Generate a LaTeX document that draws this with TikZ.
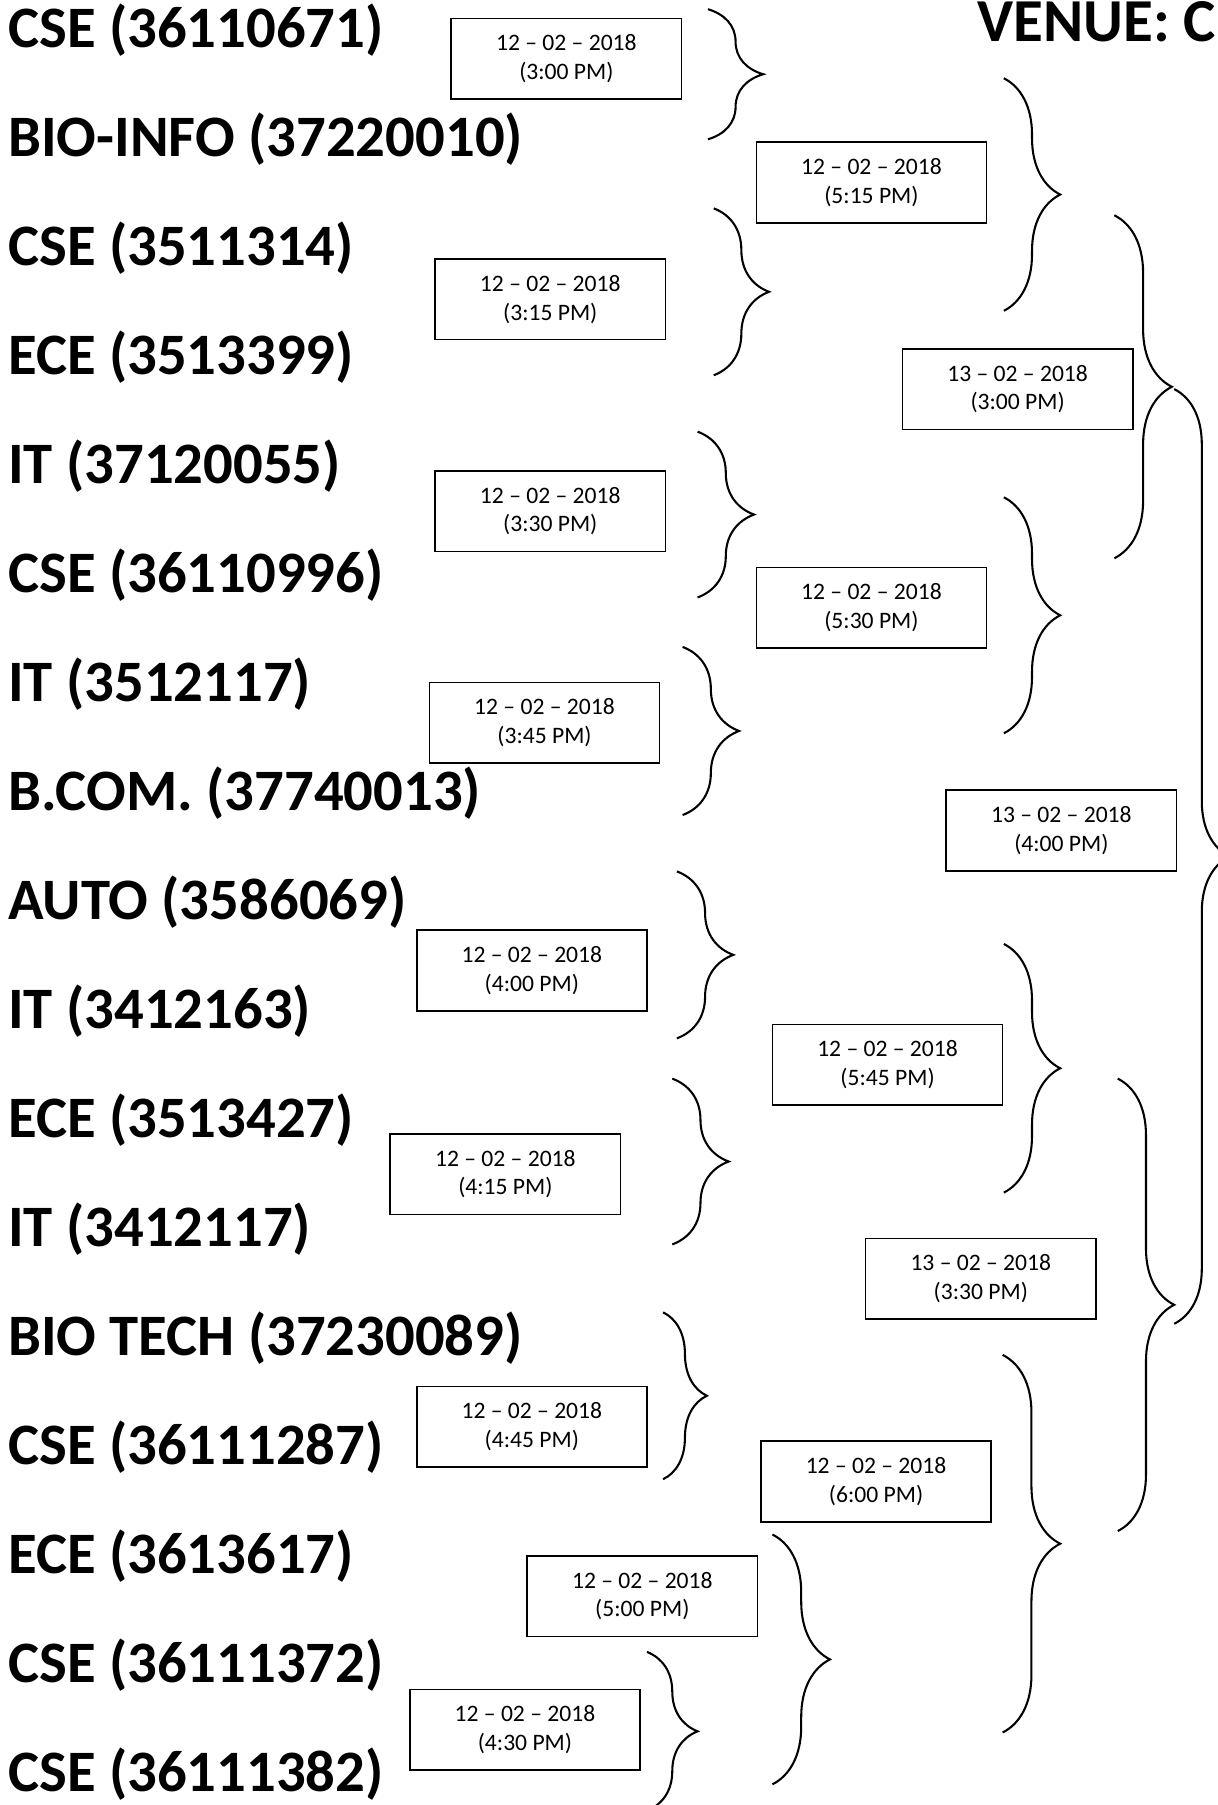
\documentclass[tikz,border=0pt]{standalone}
\usepackage{fontspec}
\setmainfont{Carlito}
\usepackage{tikz}
\usetikzlibrary{decorations.pathreplacing}
\tikzstyle{subj} = [anchor=base west, inner sep=0pt, font=\fontsize{51}{55}\selectfont\bfseries]
\tikzstyle{venue} = [anchor=base west, inner sep=0pt, font=\fontsize{53}{57}\selectfont\bfseries]
\tikzstyle{slot} = [rectangle, draw, line width=1.4pt, minimum width=200pt, minimum height=70pt, inner sep=0pt, align=center, font=\fontsize{20.5}{25}\selectfont]
\tikzstyle{brc} = [draw, line width=1.8pt, decorate, decoration={brace, amplitude=49pt}]

\begin{document}
\begin{tikzpicture}[x=1pt, y=-1pt]
		\useasboundingbox (0,0) rectangle (1058,1568);
		
		\node [venue] (title) at (849,36) {VENUE: C};
		
		\node [subj] (s1) at (7,41) {CSE (36110671)};
		\node [subj] (s2) at (7,135.7) {BIO-INFO (37220010)};
		\node [subj] (s3) at (7,230.4) {CSE (3511314)};
		\node [subj] (s4) at (7,325.1) {ECE (3513399)};
		\node [subj] (s5) at (7,419.8) {IT (37120055)};
		\node [subj] (s6) at (7,514.5) {CSE (36110996)};
		\node [subj] (s7) at (7,609.2) {IT (3512117)};
		\node [subj] (s8) at (7,703.9) {B.COM. (37740013)};
		\node [subj] (s9) at (7,798.6) {AUTO (3586069)};
		\node [subj] (s10) at (7,893.3) {IT (3412163)};
		\node [subj] (s11) at (7,988) {ECE (3513427)};
		\node [subj] (s12) at (7,1082.7) {IT (3412117)};
		\node [subj] (s13) at (7,1177.4) {BIO TECH (37230089)};
		\node [subj] (s14) at (7,1272.1) {CSE (36111287)};
		\node [subj] (s15) at (7,1366.8) {ECE (3613617)};
		\node [subj] (s16) at (7,1461.5) {CSE (36111372)};
		\node [subj] (s17) at (7,1556.2) {CSE (36111382)};
		
		% first round
		\node [slot] (t1) at (492,51) {12 – 02 – 2018\\(3:00 PM)};
		\node [slot] (t3) at (478,260) {12 – 02 – 2018\\(3:15 PM)};
		\node [slot] (t5) at (478,444) {12 – 02 – 2018\\(3:30 PM)};
		\node [slot] (t7) at (473,628) {12 – 02 – 2018\\(3:45 PM)};
		\node [slot] (t9) at (462,843) {12 – 02 – 2018\\(4:00 PM)};
		\node [slot] (t11) at (439,1020) {12 – 02 – 2018\\(4:15 PM)};
		\node [slot] (t13) at (462,1239.5) {12 – 02 – 2018\\(4:45 PM)};
		\node [slot] (t16) at (456,1502.5) {12 – 02 – 2018\\(4:30 PM)};
		\node [slot] (t15) at (558,1386.5) {12 – 02 – 2018\\(5:00 PM)};
		
		% second round
		\node [slot] (t2) at (757,158.5) {12 – 02 – 2018\\(5:15 PM)};
		\node [slot] (t6) at (757,528) {12 – 02 – 2018\\(5:30 PM)};
		\node [slot] (t10) at (771,925) {12 – 02 – 2018\\(5:45 PM)};
		\node [slot] (t14) at (761,1287) {12 – 02 – 2018\\(6:00 PM)};
		
		% third round
		\node [slot] (t4) at (884,338) {13 – 02 – 2018\\(3:00 PM)};
		\node [slot] (t12) at (852,1111) {13 – 02 – 2018\\(3:30 PM)};
		\node [slot] (t8) at (922,721.5) {13 – 02 – 2018\\(4:00 PM)};
		
		% braces
		\coordinate (k1a) at (615,8); \coordinate (k1b) at (615,121);
		\coordinate (k2a) at (872,68); \coordinate (k2b) at (872,270);
		\coordinate (k3a) at (620,181); \coordinate (k3b) at (620,326);
		\coordinate (k4a) at (968,187); \coordinate (k4b) at (968,485);
		\coordinate (k5a) at (606,375); \coordinate (k5b) at (606,519);
		\coordinate (k6a) at (872,432); \coordinate (k6b) at (872,637);
		\coordinate (k7a) at (593,562); \coordinate (k7b) at (593,708);
		\coordinate (k8a) at (1020,338); \coordinate (k8b) at (1020,1150);
		\coordinate (k9a) at (588,757); \coordinate (k9b) at (588,902);
		\coordinate (k10a) at (872,820); \coordinate (k10b) at (872,1036);
		\coordinate (k11a) at (584,937); \coordinate (k11b) at (584,1081);
		\coordinate (k12a) at (971,937); \coordinate (k12b) at (971,1330);
		\coordinate (k13a) at (576,1140); \coordinate (k13b) at (576,1285);
		\coordinate (k14a) at (871,1177); \coordinate (k14b) at (871,1505);
		\coordinate (k15a) at (671,1333); \coordinate (k15b) at (671,1550);
		\coordinate (k16a) at (562,1435); \coordinate (k16b) at (562,1573);
		
		\path [brc, decoration={amplitude=48pt}] (k1a) -- (k1b);
		\path [brc] (k2a) -- (k2b);
		\path [brc, decoration={amplitude=48pt}] (k3a) -- (k3b);
		\path [brc, decoration={amplitude=50pt}] (k4a) -- (k4b);
		\path [brc] (k5a) -- (k5b);
		\path [brc] (k6a) -- (k6b);
		\path [brc] (k7a) -- (k7b);
		\path [brc, decoration={amplitude=48pt}] (k8a) -- (k8b);
		\path [brc] (k9a) -- (k9b);
		\path [brc] (k10a) -- (k10b);
		\path [brc] (k11a) -- (k11b);
		\path [brc] (k12a) -- (k12b);
		\path [brc, decoration={amplitude=38pt}] (k13a) -- (k13b);
		\path [brc, decoration={amplitude=50pt}] (k14a) -- (k14b);
		\path [brc, decoration={amplitude=50pt}] (k15a) -- (k15b);
		\path [brc, decoration={amplitude=44pt}] (k16a) -- (k16b);
\end{tikzpicture}
\end{document}
